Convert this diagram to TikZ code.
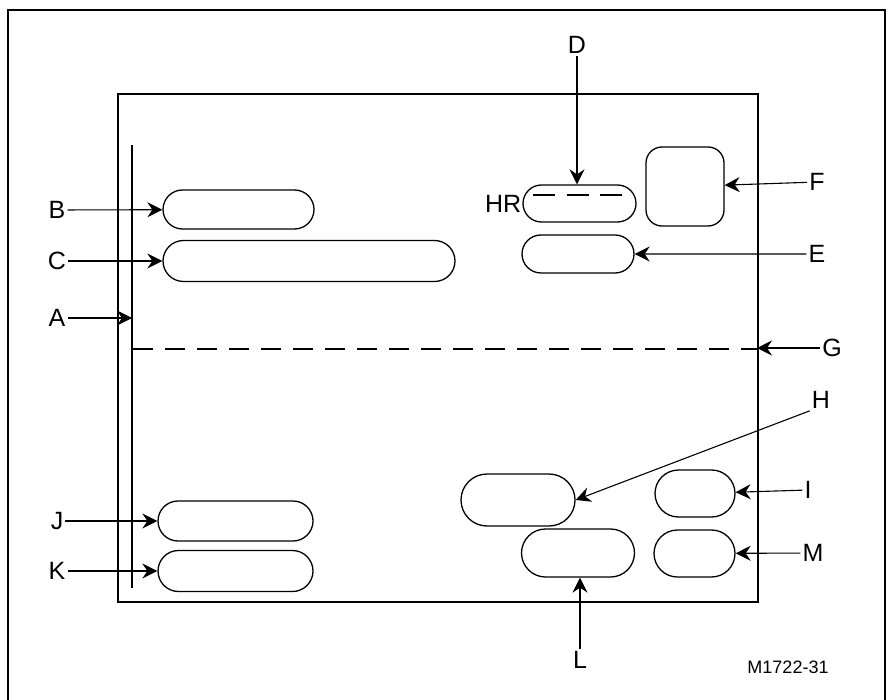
\documentclass[tikz,border=0pt]{standalone}
\usepackage{fontspec}
\setmainfont{Liberation Sans}
\usepackage{tikz}
\usetikzlibrary{arrows.meta, shapes.misc, positioning, calc}

\tikzset{
	lbl/.style={font=\fontsize{25}{25}\selectfont, inner sep=2pt},
	slot/.style={draw, line width=1.3pt, rounded rectangle, inner sep=0pt},
	arr/.style={line width=1.1pt, -{Stealth[length=15pt,width=15pt,inset=5pt]}}
}

\begin{document}
\begin{tikzpicture}[x=1pt,y=-1pt]
				\useasboundingbox (0,0) rectangle (890,700);
				\draw[line width=2pt] (8,700)--(8,10)--(885,10)--(885,700);
				\draw[line width=1.8pt] (118,94) rectangle (758,602);
				% left strip and centre line
				\draw[line width=2.4pt] (132,145)--(132,588);
				\coordinate (stripA) at (132,318);
				\draw[line width=1.2pt, dash pattern=on 20pt off 12pt] (133,349)--(757,349);
				\coordinate (lineG) at (757,348);
				% slots
				\node[slot, minimum width=151, minimum height=39] (pB) at (238.5,209.5) {};
				\node[slot, minimum width=292, minimum height=41] (pC) at (309,261) {};
				\node[slot, minimum width=113, minimum height=37] (pHR) at (579.5,203.5) {};
				\draw[line width=1.2pt, dash pattern=on 22pt off 11.5pt] (533,195)--(622,195);
				\node[draw, line width=1.3pt, rounded corners=16pt, minimum width=78, minimum height=79] (pF) at (685,186.5) {};
				\node[slot, minimum width=112, minimum height=38] (pE) at (578,254) {};
				\node[slot, minimum width=114, minimum height=52] (pH) at (518,500) {};
				\node[slot, minimum width=80, minimum height=47] (pI) at (695,493.5) {};
				\node[slot, minimum width=81, minimum height=47] (pM) at (694.5,553.5) {};
				\node[slot, minimum width=113, minimum height=48] (pL) at (578,553) {};
				\node[slot, minimum width=155, minimum height=40] (pJ) at (235.5,521) {};
				\node[slot, minimum width=155, minimum height=41] (pK) at (235.5,571) {};
				% labels
				\node[lbl] (lB) at (57,210) {B};
				\node[lbl] (lC) at (57,261) {C};
				\node[lbl] (lA) at (57,318) {A};
				\node[lbl] (lJ) at (57,521) {J};
				\node[lbl] (lK) at (57,571) {K};
				\node[lbl] (lD) at (577,45) {D};
				\node[lbl, anchor=east, inner sep=1pt] (lHR) at (pHR.west) {HR};
				\node[lbl] (lF) at (817,182) {F};
				\node[lbl] (lE) at (817,254) {E};
				\node[lbl] (lG) at (832,348) {G};
				\node[lbl] (lH) at (821,400) {H};
				\node[lbl] (lI) at (808,490) {I};
				\node[lbl] (lM) at (813,553) {M};
				\node[lbl] (lL) at (580,660) {L};
				\node[font=\fontsize{18}{18}\selectfont] (fig) at (788,667) {M1722-31};
				% arrows
				\draw[arr] (lB)--(pB);
				\draw[arr] (lC)--(pC);
				\draw[arr] (lA)--(stripA);
				\draw[arr] (lJ)--(pJ);
				\draw[arr] (lK)--(pK);
				\draw[arr] (lD)--(lD |- pHR.north);
				\draw[arr] (lF)--(pF);
				\draw[arr] (lE)--(pE);
				\draw[arr] (lG)--(lineG);
				\draw[arr] (lH.south west)--(pH.east);
				\draw[arr] (lI)--(pI);
				\draw[arr] (lM)--(pM);
				\draw[arr] (lL)--(lL |- pL.south);
			\end{tikzpicture}
\end{document}
